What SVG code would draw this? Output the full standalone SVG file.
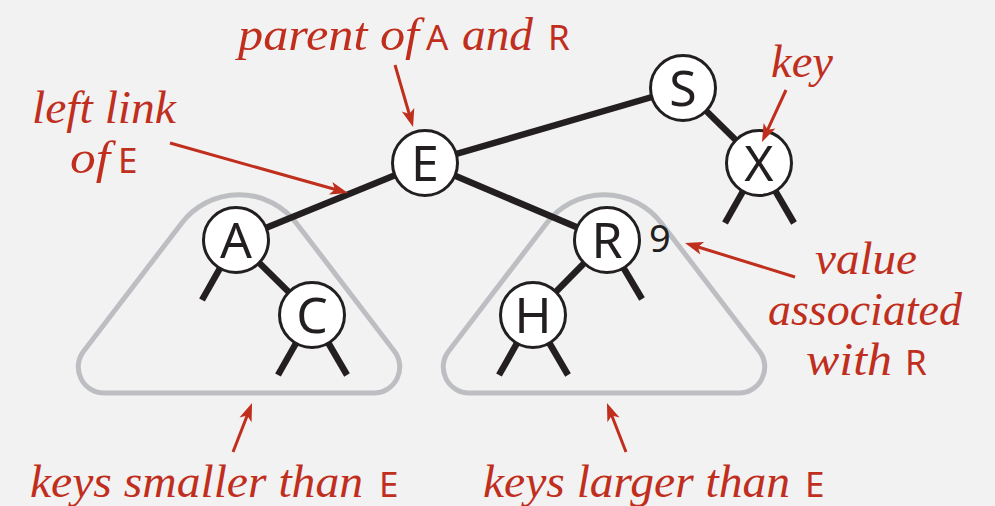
<svg xmlns="http://www.w3.org/2000/svg" width="995" height="506" viewBox="0 0 995 506">
<style>
.bg{fill:#f2f2f2}
.tri{fill:none;stroke:#bdbec1;stroke-width:5}
.edge{stroke:#231f20;stroke-width:6.5;stroke-linecap:butt;fill:none}
.node circle{fill:#ffffff;stroke:#231f20;stroke-width:3}
.node text{font-family:"Noto Sans","Open Sans","DejaVu Sans",sans-serif;font-size:50px;fill:#231f20;text-anchor:middle}
.it{font-family:"Liberation Serif","Times New Roman",serif;font-style:italic;font-size:46px;fill:#c02e1d}
.sf{font-family:"Noto Sans","Open Sans","DejaVu Sans",sans-serif;font-size:35px;fill:#c02e1d}
.arr{stroke:#c02e1d;stroke-width:3;fill:none;marker-end:url(#ah)}
.val{font-family:"Noto Sans","Open Sans","DejaVu Sans",sans-serif;font-size:38px;fill:#231f20}
</style>
<defs>
<marker id="ah" markerUnits="userSpaceOnUse" markerWidth="20" markerHeight="14" viewBox="-7 -7 20 14" refX="0" refY="0" orient="auto">
<path d="M12,0 L-6,-6.5 L-1.5,0 L-6,6.5 Z" fill="#c02e1d"/>
</marker>
<path id="subtree" d="M180.8 222.9 A 72 72 0 0 1 295.2 222.9 L 393.4 351.2 A 26 26 0 0 1 372.8 393 L 103.2 393 A 26 26 0 0 1 82.6 351.2 Z"/>
</defs>
<rect class="bg" x="0" y="0" width="995" height="506"/>
<g id="subtrees">
<use href="#subtree" class="tri" transform="translate(1,0)"/>
<use href="#subtree" class="tri" transform="translate(366,0)"/>
</g>
<g id="connectors">
<line class="edge" x1="425" y1="163" x2="236" y2="240"/>
<line class="edge" x1="425" y1="163" x2="607" y2="240"/>
<line class="edge" x1="425" y1="163" x2="683" y2="88"/>
<line class="edge" x1="683" y1="88" x2="759" y2="163"/>
<line class="edge" x1="236" y1="240" x2="312" y2="315"/>
<line class="edge" x1="607" y1="240" x2="533" y2="315"/>
<line class="edge" x1="236" y1="240" x2="202" y2="300"/>
<line class="edge" x1="312" y1="315" x2="278" y2="375"/>
<line class="edge" x1="312" y1="315" x2="347" y2="375"/>
<line class="edge" x1="607" y1="240" x2="642" y2="299"/>
<line class="edge" x1="533" y1="315" x2="499" y2="375"/>
<line class="edge" x1="533" y1="315" x2="568" y2="375"/>
<line class="edge" x1="759" y1="163" x2="725" y2="223"/>
<line class="edge" x1="759" y1="163" x2="794" y2="223"/>
</g>
<g id="node-S" class="node"><circle cx="683" cy="88" r="32.5"/><text x="683" y="106">S</text></g>
<g id="node-E" class="node"><circle cx="425" cy="163" r="32.5"/><text x="425" y="181">E</text></g>
<g id="node-X" class="node"><circle cx="759" cy="163" r="32.5"/><text x="759" y="181">X</text></g>
<g id="node-A" class="node"><circle cx="236" cy="240" r="32.5"/><text x="236" y="258">A</text></g>
<g id="node-R" class="node"><circle cx="607" cy="240" r="32.5"/><text x="607" y="258">R</text></g>
<g id="node-C" class="node"><circle cx="312" cy="315" r="32.5"/><text x="312" y="333">C</text></g>
<g id="node-H" class="node"><circle cx="533" cy="315" r="32.5"/><text x="533" y="333">H</text></g>
<text id="value-9" class="val" x="649" y="252">9</text>
<g id="annotations">
<line class="arr" x1="395" y1="65" x2="409.7" y2="115.5"/>
<line class="arr" x1="170" y1="143" x2="336.4" y2="189.8"/>
<line class="arr" x1="786" y1="90" x2="767" y2="131.1"/>
<line class="arr" x1="795" y1="277" x2="696.5" y2="246.5"/>
<line class="arr" x1="233" y1="452" x2="247.7" y2="414.2"/>
<line class="arr" x1="626" y1="452" x2="611.3" y2="414.2"/>
</g>
<g id="label-parent">
<text class="it" x="238" y="50" textLength="181" lengthAdjust="spacingAndGlyphs">parent of</text>
<text class="sf" x="426" y="50">A</text>
<text class="it" x="462" y="50" textLength="71" lengthAdjust="spacingAndGlyphs">and</text>
<text class="sf" x="548" y="50">R</text>
</g>
<g id="label-leftlink">
<text class="it" x="32" y="123" textLength="144" lengthAdjust="spacingAndGlyphs">left link</text>
<text class="it" x="70" y="173" textLength="40" lengthAdjust="spacingAndGlyphs">of</text>
<text class="sf" x="118" y="173">E</text>
</g>
<g id="label-key">
<text class="it" x="771" y="77" textLength="62" lengthAdjust="spacingAndGlyphs">key</text>
</g>
<g id="label-value">
<text class="it" x="815" y="274" textLength="102" lengthAdjust="spacingAndGlyphs">value</text>
<text class="it" x="768" y="325" textLength="194" lengthAdjust="spacingAndGlyphs">associated</text>
<text class="it" x="806" y="375" textLength="86" lengthAdjust="spacingAndGlyphs">with</text>
<text class="sf" x="905" y="375">R</text>
</g>
<g id="label-smaller">
<text class="it" x="30" y="497" textLength="333" lengthAdjust="spacingAndGlyphs">keys smaller than</text>
<text class="sf" x="379" y="497">E</text>
</g>
<g id="label-larger">
<text class="it" x="483" y="497" textLength="307" lengthAdjust="spacingAndGlyphs">keys larger than</text>
<text class="sf" x="805" y="497">E</text>
</g>
</svg>
